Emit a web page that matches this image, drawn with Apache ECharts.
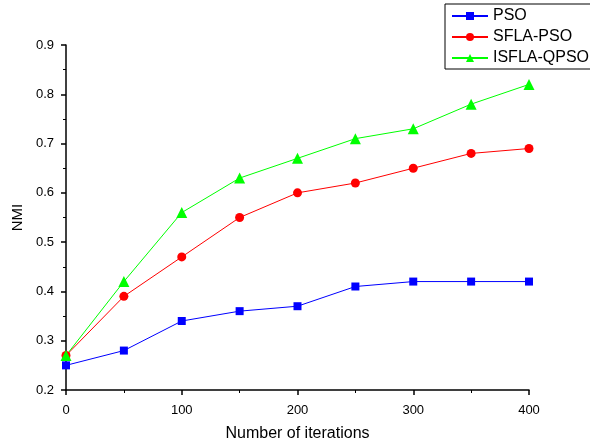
<!DOCTYPE html>
<html>
<head>
<meta charset="utf-8">
<script src="https://cdn.jsdelivr.net/npm/echarts@6/dist/echarts.min.js"></script>
<style>
  html, body { margin: 0; padding: 0; background: #fff; }
  #chart { width: 590px; height: 444px; }
</style>
</head>
<body>
<div id="chart"></div>
<script>
// iterations on the x axis
var iterations = [0, 50, 100, 150, 200, 250, 300, 350, 400];
// NMI values
var psoValues = [0.25, 0.28, 0.34, 0.36, 0.37, 0.41, 0.42, 0.42, 0.42];
var sflaPsoValues = [0.27, 0.39, 0.47, 0.55, 0.60, 0.62, 0.65, 0.68, 0.69];
var isflaQpsoValues = [0.27, 0.42, 0.56, 0.63, 0.67, 0.71, 0.73, 0.78, 0.82];

function pairs(vals) {
    return iterations.map(function (x, i) { return [x, vals[i]]; });
}

var font = 'Liberation Sans, Arial, sans-serif';

var myChart = echarts.init(document.getElementById('chart'));

function makeSeries(name, vals, color, symbol, size) {
    return {
        name: name,
        type: 'line',
        data: pairs(vals),
        symbol: symbol,
        symbolSize: size,
        showAllSymbol: true,
        lineStyle: { color: color, width: 1 },
        itemStyle: { color: color },
        emphasis: { disabled: true },
        z: 3
    };
}

var option = {
    animation: false,
    backgroundColor: '#fff',
    textStyle: { fontFamily: font },
    grid: { left: 66, right: 61, top: 45, bottom: 54, outerBoundsMode: 'none' },
    legend: {
        orient: 'vertical',
        left: 445,
        top: 4,
        padding: [4, 30, 3, 6],
        itemGap: 5,
        itemWidth: 36,
        itemHeight: 10,
        borderColor: '#000',
        borderWidth: 1,
        textStyle: { fontFamily: font, fontSize: 16, color: '#000' },
        data: ['PSO', 'SFLA-PSO', 'ISFLA-QPSO']
    },
    xAxis: {
        type: 'value',
        min: 0,
        max: 400,
        interval: 100,
        name: 'Number of iterations',
        nameLocation: 'middle',
        nameGap: 36,
        nameTextStyle: { fontFamily: font, fontSize: 16, color: '#000' },
        axisLine: { lineStyle: { color: '#000', width: 1.5 } },
        axisTick: { inside: false, length: 5, lineStyle: { color: '#000', width: 1.5 } },
        minorTick: { show: true, splitNumber: 2, length: 3, lineStyle: { color: '#000', width: 1 } },
        axisLabel: { fontFamily: font, fontSize: 13, color: '#000', margin: 14 },
        splitLine: { show: false }
    },
    yAxis: {
        type: 'value',
        min: 0.2,
        max: 0.9,
        interval: 0.1,
        name: 'NMI',
        nameLocation: 'middle',
        nameGap: 36,
        nameTextStyle: { fontFamily: font, fontSize: 15, color: '#000' },
        axisLine: { show: true, lineStyle: { color: '#000', width: 1.5 } },
        axisTick: { show: true, inside: false, length: 5, lineStyle: { color: '#000', width: 1.5 } },
        minorTick: { show: true, splitNumber: 2, length: 3, lineStyle: { color: '#000', width: 1 } },
        axisLabel: {
            fontFamily: font, fontSize: 13, color: '#000', margin: 12,
            formatter: function (v) { return v.toFixed(1); }
        },
        splitLine: { show: false }
    },
    series: [
        makeSeries('PSO', psoValues, '#0000ff', 'rect', 8),
        makeSeries('SFLA-PSO', sflaPsoValues, '#ff0000', 'circle', 9),
        makeSeries('ISFLA-QPSO', isflaQpsoValues, '#00ff00', 'triangle', 11)
    ]
};

myChart.setOption(option);
</script>
</body>
</html>
